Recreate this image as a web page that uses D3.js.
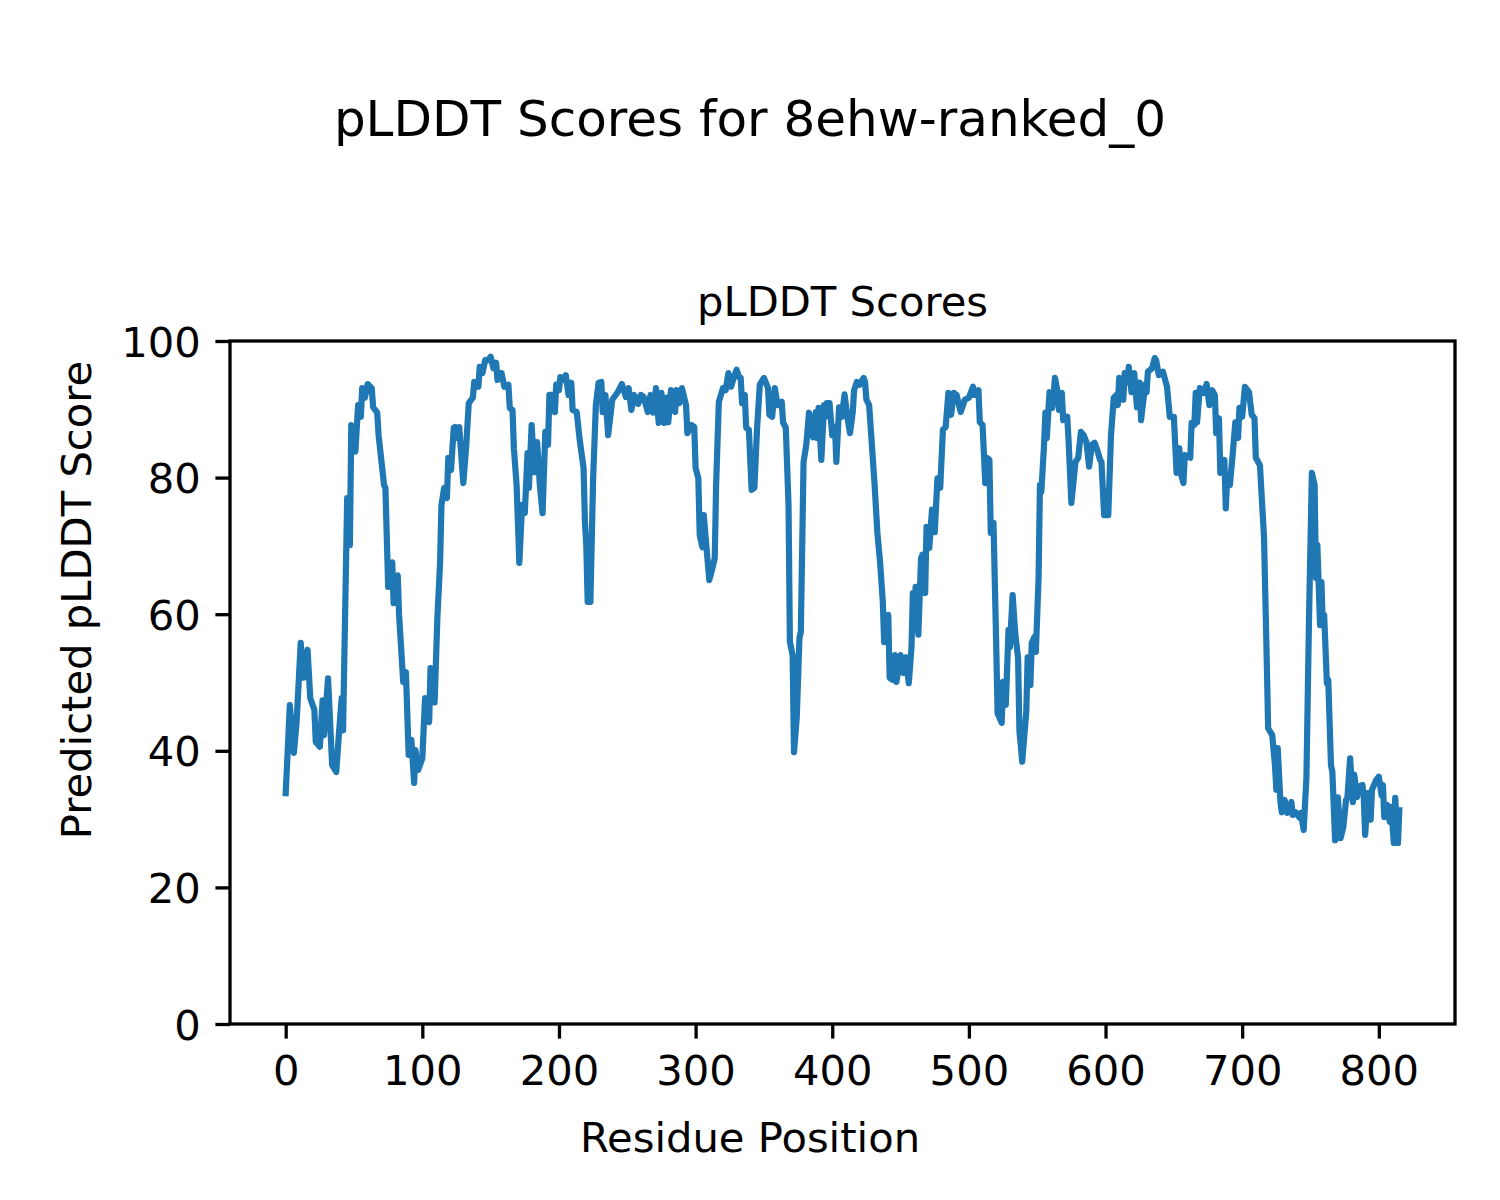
<!DOCTYPE html>
<html>
<head>
<meta charset="utf-8">
<script src="https://cdn.jsdelivr.net/npm/d3@7"></script>
<style>
  html, body { margin: 0; padding: 0; background: #fff; }
  svg { display: block; }
  text { font-family: "DejaVu Sans", sans-serif; fill: #000; }
</style>
</head>
<body>
<script>
const figTitle = "pLDDT Scores for 8ehw-ranked_0";
const axTitle = "pLDDT Scores";
const xLabel = "Residue Position";
const yLabel = "Predicted pLDDT Score";
const xTicks = [0, 100, 200, 300, 400, 500, 600, 700, 800];
const yTicks = [0, 20, 40, 60, 80, 100];

const residues = [0,1,3,6,8,11,13,16,18,21,22,25,27,28,31,34,37,39,41,42,45,47,48,51,53,55,56,58,60,63,64,67,68,72,73,75,78,79,82,83,86,88,90,92,94,95,97,100,102,105,106,109,111,113,114,116,118,119,121,123,124,126,127,130,132,134,137,138,141,142,144,146,148,150,152,154,155,158,160,163,164,166,167,169,171,173,175,177,178,180,182,184,186,188,190,192,193,196,197,198,200,201,203,205,207,209,210,213,215,218,219,220,221,223,225,227,229,231,232,234,236,239,243,246,249,251,253,255,258,260,262,265,267,269,271,273,275,277,279,280,282,285,286,288,290,293,294,297,299,300,302,303,305,306,308,310,312,314,315,317,320,322,324,326,328,330,332,333,334,336,337,339,341,343,345,347,350,353,354,356,358,360,363,364,366,368,369,371,372,374,376,377,379,381,383,385,386,388,389,390,392,394,395,396,398,400,402,403,405,407,409,411,413,415,416,418,420,423,424,425,427,429,431,433,435,437,438,441,442,444,446,447,450,452,454,456,458,459,460,461,463,465,466,468,469,471,473,475,477,479,481,483,485,487,489,491,494,497,500,503,504,507,508,510,512,513,515,516,518,520,521,524,525,527,529,530,532,534,536,537,538,539,542,543,545,546,548,549,551,552,553,555,556,557,559,561,563,565,566,568,569,572,573,575,578,580,582,584,586,588,590,592,594,596,597,599,602,604,606,608,609,610,613,614,616,617,619,621,623,625,626,629,630,631,634,636,637,639,642,645,647,650,652,654,655,657,658,662,663,665,666,667,669,672,674,676,678,680,681,683,684,687,688,689,691,693,695,697,698,700,702,705,707,709,710,713,716,718,719,722,724,725,726,728,729,731,733,736,737,739,742,743,745,747,749,751,753,754,755,757,758,759,760,762,763,765,766,768,770,772,774,776,777,779,781,782,784,785,788,789,790,792,794,795,798,800,802,803,804,806,808,809,811,812,814,815];

const scores = [33.8,37.9,46.7,39.7,44.2,55.8,50.7,54.8,47.7,46.0,41.3,40.6,47.4,42.3,50.6,37.9,36.9,42.6,47.7,43.0,77.0,70.1,87.7,83.8,90.6,88.9,93.1,91.7,93.7,93.1,90.3,89.5,86.2,78.9,78.5,64.0,67.6,61.6,65.7,59.9,50.1,51.5,39.4,41.6,35.3,40.1,37.2,38.9,47.7,44.2,52.1,47.1,59.4,67.6,76.0,78.5,77.0,82.9,81.1,87.3,87.4,85.8,87.4,79.2,84.3,90.9,91.7,94.0,93.3,96.2,95.3,97.2,97.2,97.7,96.0,96.8,94.3,95.3,93.3,93.6,90.2,89.9,84.3,78.9,67.5,76.0,74.8,83.6,78.5,87.7,80.8,85.2,78.9,74.8,86.7,84.8,92.1,92.1,89.6,93.6,92.8,94.7,94.3,95.0,92.1,93.9,89.9,89.6,85.8,81.4,73.5,70.1,61.8,61.8,79.9,90.6,93.9,94.0,89.6,92.1,86.2,91.4,92.5,93.7,91.8,93.1,89.9,92.1,90.8,92.1,91.8,89.6,92.1,89.5,93.1,88.0,92.4,88.0,91.7,88.1,92.8,89.6,92.8,90.9,93.1,90.6,86.5,87.7,87.4,81.4,79.9,71.6,69.8,74.5,69.7,65.0,66.5,68.2,78.9,91.1,93.1,92.8,95.3,93.3,94.7,95.8,94.6,94.6,90.9,92.1,87.3,87.0,78.2,78.5,87.3,93.6,94.6,93.1,89.2,88.9,93.1,90.6,91.1,88.1,87.3,76.0,56.0,54.0,39.8,44.8,56.5,57.4,82.3,84.8,89.5,87.3,85.9,89.6,85.8,90.2,82.6,90.6,88.9,90.9,90.9,86.2,87.4,82.3,90.3,88.9,92.2,88.9,86.5,89.6,92.8,94.0,93.6,94.6,94.0,91.4,90.6,84.8,78.9,72.0,67.6,61.8,55.9,59.9,50.7,50.4,54.0,50.1,54.0,51.4,53.7,49.9,55.2,63.1,58.0,64.0,57.0,68.2,68.7,63.1,72.8,69.7,75.3,72.0,79.9,78.5,87.0,87.4,92.4,89.2,92.4,92.1,89.6,91.4,91.7,93.3,92.1,92.8,88.1,87.7,79.2,82.9,82.6,71.9,73.4,55.5,45.5,44.1,50.1,46.7,57.7,55.2,62.8,57.0,53.6,42.8,40.8,38.4,45.7,53.7,49.6,55.8,56.7,54.5,65.3,78.9,77.9,84.8,89.5,85.8,92.5,90.2,94.6,92.5,89.9,92.4,88.4,88.9,85.2,76.3,82.3,82.9,86.7,86.2,85.2,81.6,84.8,85.1,84.0,82.6,82.3,74.5,74.5,86.2,91.7,92.1,90.6,94.6,91.4,95.3,94.0,96.2,92.5,95.3,90.3,93.9,88.4,93.6,92.5,95.5,96.0,97.5,97.2,95.0,95.5,93.3,88.9,88.9,80.7,84.3,80.7,79.2,83.3,82.9,88.0,87.7,92.4,88.1,93.1,92.4,93.7,90.6,92.8,92.1,86.5,88.7,80.7,82.6,75.5,79.9,78.9,83.3,88.1,85.8,90.2,88.9,93.3,92.5,89.2,88.7,82.9,81.8,71.2,53.0,43.3,42.3,37.9,34.3,40.4,32.5,31.0,32.8,30.9,32.5,30.6,31.0,30.2,30.9,28.4,36.0,60.3,80.7,78.9,65.3,70.1,58.4,64.7,58.4,59.9,49.9,50.4,37.9,36.9,26.9,33.2,27.2,28.8,32.8,33.1,38.9,32.5,36.5,33.2,34.7,35.0,33.1,27.7,33.8,29.9,34.3,35.7,36.2,33.5,35.0,30.3,32.1,29.6,31.8,26.5,33.1,26.5,31.3];

const W = 1500, H = 1200;
const L = 230, R = 1455, T = 341, B = 1024;
const fs = 41.7, fsBig = 50;

const svg = d3.select("body").append("svg").attr("width", W).attr("height", H);
svg.append("rect").attr("width", W).attr("height", H).attr("fill", "#fff");

const xMin = d3.min(residues), xMax = d3.max(residues);
const pad = (xMax - xMin) * 0.05;
const x = d3.scaleLinear().domain([xMin - pad, xMax + pad]).range([L, R]);
const y = d3.scaleLinear().domain([0, 100]).range([B, T]);

const pts = residues.map((r, i) => [r, scores[i]]);
const line = d3.line().x(d => x(d[0])).y(d => y(d[1]));

const clipId = "clip";
svg.append("clipPath").attr("id", clipId).append("rect")
  .attr("x", L).attr("y", T).attr("width", R - L).attr("height", B - T);

svg.append("path").datum(pts)
  .attr("d", line)
  .attr("fill", "none")
  .attr("stroke", "#1f77b4")
  .attr("stroke-width", 6.2)
  .attr("stroke-linejoin", "round")
  .attr("stroke-linecap", "square")
  .attr("clip-path", `url(#${clipId})`);

// axes
const xAxis = d3.axisBottom(x).tickValues(xTicks).tickSize(14.6).tickPadding(14.6).tickFormat(d3.format("d"));
const yAxis = d3.axisLeft(y).tickValues(yTicks).tickSize(14.6).tickPadding(14.6).tickFormat(d3.format("d"));

const gx = svg.append("g").attr("transform", `translate(0,${B})`).call(xAxis);
const gy = svg.append("g").attr("transform", `translate(${L},0)`).call(yAxis);
[gx, gy].forEach(g => {
  g.select(".domain").remove();
  g.selectAll(".tick line").attr("stroke", "#000").attr("stroke-width", 3.3);
  g.selectAll(".tick text").attr("font-family", "DejaVu Sans").attr("font-size", fs).attr("fill", "#000");
});
gx.selectAll(".tick text").attr("dy", null).attr("y", 29.2).attr("dominant-baseline", "hanging").attr("dy", "0.02em");
gy.selectAll(".tick text").attr("dy", "0.36em");

// spines
svg.append("rect").attr("x", L).attr("y", T).attr("width", R - L).attr("height", B - T)
  .attr("fill", "none").attr("stroke", "#000").attr("stroke-width", 3.3);

// titles (figure-level labels centred on the figure)
svg.append("text").attr("x", W / 2).attr("y", 136).attr("text-anchor", "middle")
  .attr("font-size", fsBig).text(figTitle);
svg.append("text").attr("x", (L + R) / 2).attr("y", 316).attr("text-anchor", "middle")
  .attr("font-size", fs).text(axTitle);
svg.append("text").attr("x", W / 2).attr("y", 1152).attr("text-anchor", "middle")
  .attr("font-size", fs).text(xLabel);
svg.append("text").attr("transform", `translate(91,${H / 2}) rotate(-90)`)
  .attr("text-anchor", "middle").attr("font-size", fs).text(yLabel);
</script>
</body>
</html>
